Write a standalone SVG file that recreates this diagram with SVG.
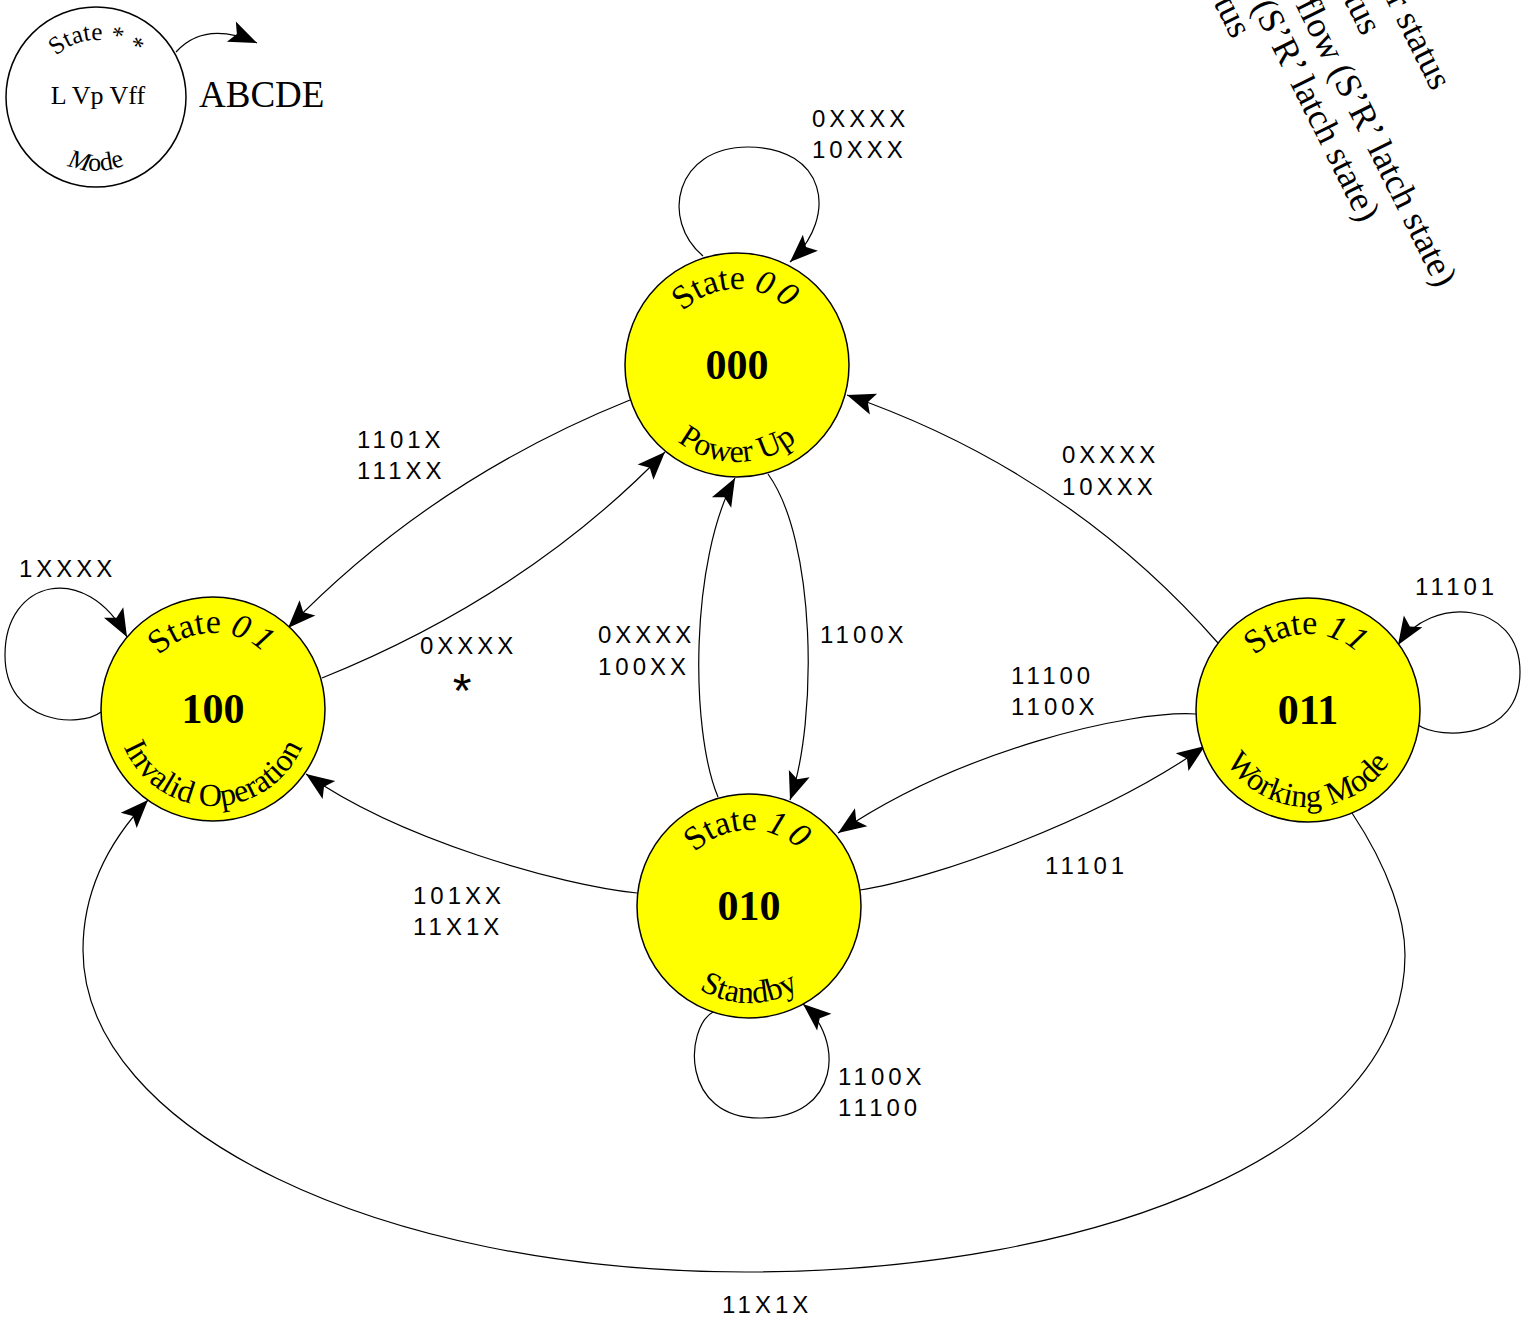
<svg xmlns="http://www.w3.org/2000/svg" width="1526" height="1319" viewBox="0 0 1526 1319">
<style>
.node{fill:#ffff00;stroke:#000;stroke-width:1.5}
.leg{fill:#fff;stroke:#000;stroke-width:1.5}
.tm{font-family:"Liberation Serif","Times New Roman",serif;fill:#000}
.top{font-size:34px}
.bot{font-size:32px}
.num{font-size:42px;font-weight:bold;text-anchor:middle}
.dig{font-style:italic;letter-spacing:5px}
.lbl{font-family:"Liberation Sans",Arial,sans-serif;font-size:24px;letter-spacing:4px;fill:#000}
.edge{fill:none;stroke:#000;stroke-width:1.2;marker-end:url(#arr)}
.rot{font-family:"Liberation Serif","Times New Roman",serif;font-size:36px;text-anchor:end;fill:#000}
</style>
<defs>
<marker id="arr" markerUnits="userSpaceOnUse" markerWidth="30" markerHeight="24" refX="28" refY="11" orient="auto" overflow="visible">
<path d="M0,0 L28,11 L0,22 L6,11 Z" fill="#000"/>
</marker>
<path id="t00" d="M661,365 A76,76 0 0 1 813,365"/>
<path id="b00" d="M640,365 A97,97 0 0 0 834,365"/>
<path id="t01" d="M137,709 A76,76 0 0 1 289,709"/>
<path id="b01" d="M116,709 A97,97 0 0 0 310,709"/>
<path id="t11" d="M1232,710 A76,76 0 0 1 1384,710"/>
<path id="b11" d="M1211,710 A97,97 0 0 0 1405,710"/>
<path id="t10" d="M673,906 A76,76 0 0 1 825,906"/>
<path id="b10" d="M652,906 A97,97 0 0 0 846,906"/>
<path id="tleg" d="M39,97 A57,57 0 0 1 153,97"/>
<path id="bleg" d="M22,97 A74,74 0 0 0 170,97"/>
</defs>

<g id="connectors">
<path class="edge" d="M703,256 C660,220 675,147 748,147 C825,147 840,215 790,262"/>
<path class="edge" d="M101,712 C80,728 5,725 5,655 C5,580 85,560 127,637"/>
<path class="edge" d="M1418,725 C1440,740 1520,740 1520,672 C1520,600 1430,595 1398,645"/>
<path class="edge" d="M713,1012 C685,1028 680,1118 760,1118 C840,1118 845,1040 803,1004"/>
<path class="edge" d="M630,400 Q431,480 288,628"/>
<path class="edge" d="M322,678 Q527,595 665,452"/>
<path class="edge" d="M718,797 C690,730 690,560 735,478"/>
<path class="edge" d="M768,474 C816,540 818,720 790,800"/>
<path class="edge" d="M1218,643 Q1067,471 847,395"/>
<path class="edge" d="M1196,714 C1130,710 960,750 838,833"/>
<path class="edge" d="M860,890 C930,880 1100,820 1205,746"/>
<path class="edge" d="M637,893 C560,885 400,840 306,774"/>
<path class="edge" d="M1352,813 C1390,870 1405,920 1405,955 C1405,1150 1100,1272 745,1272 C380,1272 83,1130 83,950 C83,890 110,840 148,800"/>
<path class="edge" d="M176,52 Q205,20 257,43"/>
</g>

<g id="labels">
<text class="lbl" x="812" y="127">0XXXX</text>
<text class="lbl" x="812" y="158">10XXX</text>
<text class="lbl" x="19" y="577">1XXXX</text>
<text class="lbl" x="1415" y="595">11101</text>
<text class="lbl" x="838" y="1085">1100X</text>
<text class="lbl" x="838" y="1116">11100</text>
<text class="lbl" x="357" y="448">1101X</text>
<text class="lbl" x="357" y="479">111XX</text>
<text class="lbl" x="420" y="654">0XXXX</text>
<text class="lbl" x="462" y="707" style="font-size:48px;letter-spacing:0;text-anchor:middle">*</text>
<text class="lbl" x="598" y="643">0XXXX</text>
<text class="lbl" x="598" y="675">100XX</text>
<text class="lbl" x="820" y="643">1100X</text>
<text class="lbl" x="1062" y="463">0XXXX</text>
<text class="lbl" x="1062" y="495">10XXX</text>
<text class="lbl" x="1011" y="684">11100</text>
<text class="lbl" x="1011" y="715">1100X</text>
<text class="lbl" x="1045" y="874">11101</text>
<text class="lbl" x="413" y="904">101XX</text>
<text class="lbl" x="413" y="935">11X1X</text>
<text class="lbl" x="722" y="1313">11X1X</text>
</g>

<g id="legend">
<circle class="leg" cx="96" cy="97" r="90"/>
<text class="tm" style="font-size:25px"><textPath href="#tleg" startOffset="50%" text-anchor="middle">State  *  *</textPath></text>
<text class="tm" x="98" y="104" style="font-size:26px;text-anchor:middle">L Vp Vff</text>
<text class="tm" style="font-size:26px"><textPath href="#bleg" startOffset="50%" text-anchor="middle"><tspan style="font-style:italic">M</tspan>ode</textPath></text>
<text class="tm" x="199" y="107" style="font-size:37px">ABCDE</text>
</g>

<g id="state00">
<circle class="node" cx="737" cy="365" r="112"/>
<text class="tm top"><textPath href="#t00" startOffset="50%" text-anchor="middle">State <tspan class="dig">00</tspan></textPath></text>
<text class="tm num" x="737" y="379">000</text>
<text class="tm bot"><textPath href="#b00" startOffset="50%" text-anchor="middle">Power Up</textPath></text>
</g>

<g id="state01">
<circle class="node" cx="213" cy="709" r="112"/>
<text class="tm top"><textPath href="#t01" startOffset="50%" text-anchor="middle">State <tspan class="dig">01</tspan></textPath></text>
<text class="tm num" x="213" y="723">100</text>
<text class="tm bot"><textPath href="#b01" startOffset="50%" text-anchor="middle">Invalid Operation</textPath></text>
</g>

<g id="state11">
<circle class="node" cx="1308" cy="710" r="112"/>
<text class="tm top"><textPath href="#t11" startOffset="50%" text-anchor="middle">State <tspan class="dig">11</tspan></textPath></text>
<text class="tm num" x="1308" y="724">011</text>
<text class="tm bot"><textPath href="#b11" startOffset="50%" text-anchor="middle">Working Mode</textPath></text>
</g>

<g id="state10">
<circle class="node" cx="749" cy="906" r="112"/>
<text class="tm top"><textPath href="#t10" startOffset="50%" text-anchor="middle">State <tspan class="dig">10</tspan></textPath></text>
<text class="tm num" x="749" y="920">010</text>
<text class="tm bot"><textPath href="#b10" startOffset="50%" text-anchor="middle">Standby</textPath></text>
</g>

<g id="notes">
<text class="rot" transform="translate(1432,92) rotate(63.5)">r status</text>
<text class="rot" transform="translate(1362,37) rotate(63.5)">tus</text>
<text class="rot" transform="translate(1437,289) rotate(63.5)">flow (S’R’ latch state)</text>
<text class="rot" transform="translate(1360,224) rotate(63.5)">(S’R’ latch state)</text>
<text class="rot" transform="translate(1232,40) rotate(63.5)">tus</text>
</g>
</svg>
